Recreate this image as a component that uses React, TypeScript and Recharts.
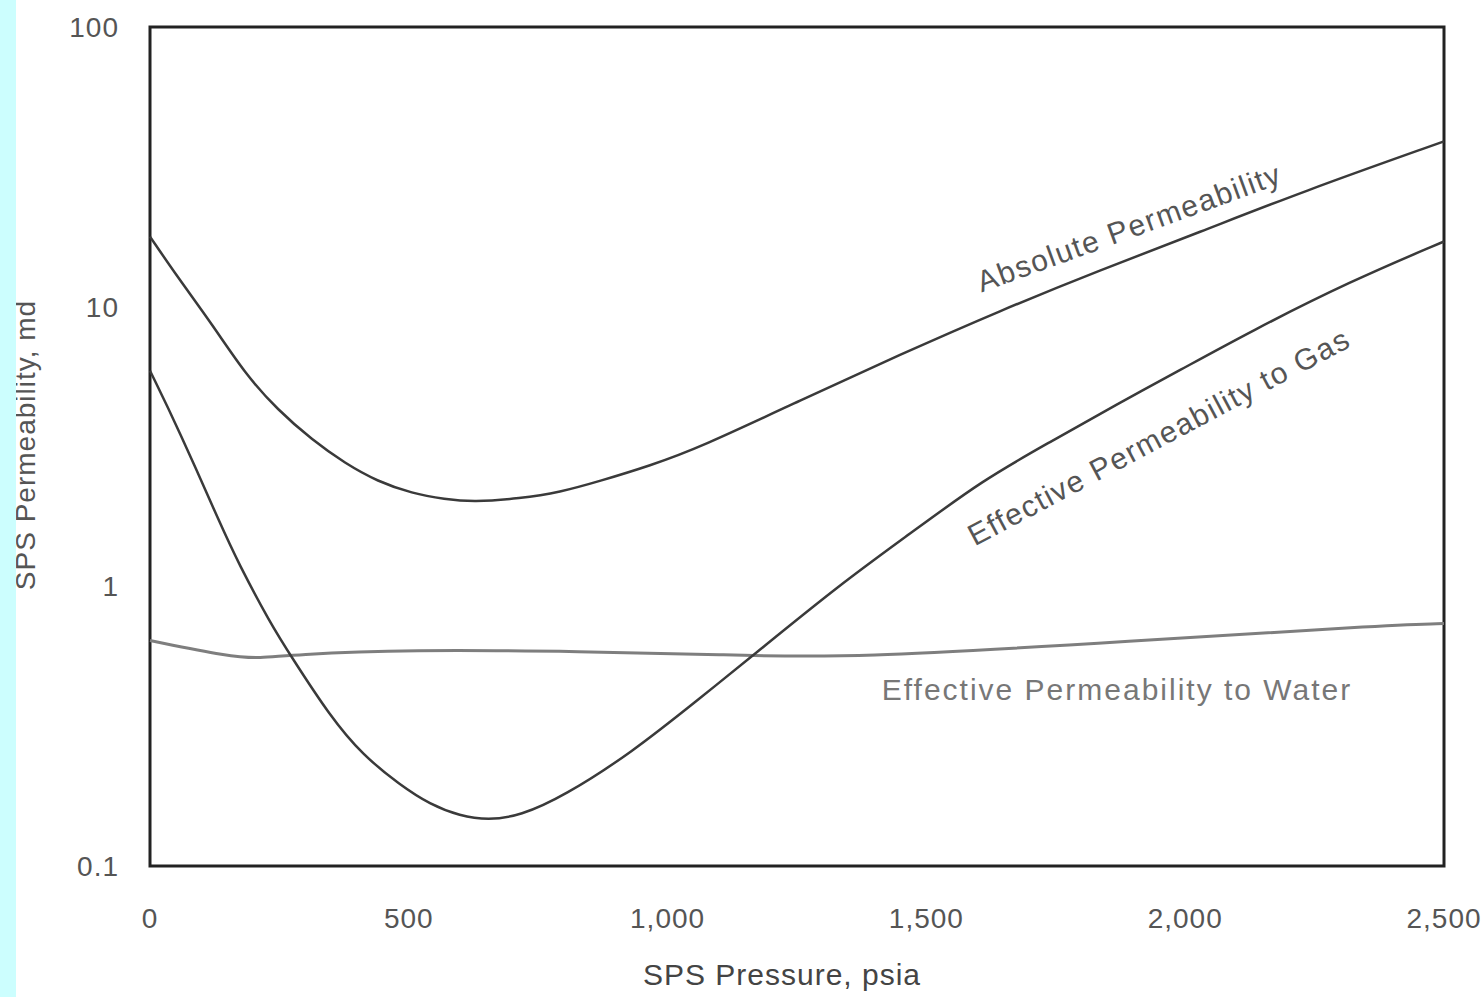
import React from 'react';
import { LineChart, Line, XAxis, YAxis, ReferenceArea } from 'recharts';

// values (pressure in psia, permeability in md)
const absPressure = [0, 54, 120, 184, 247, 313, 377, 440, 506, 570, 624, 715, 792, 869, 966, 1063, 1256, 1449, 1642, 1835, 2029, 2222, 2500];
const absPerm = [17.8, 12.7, 8.65, 5.74, 4.27, 3.34, 2.75, 2.37, 2.15, 2.05, 2.0, 2.06, 2.17, 2.38, 2.7, 3.14, 4.62, 6.74, 9.67, 13.5, 18.5, 25.6, 39.0];

const gasPressure = [0, 54, 139, 170, 232, 274, 348, 411, 483, 541, 599, 653, 715, 800, 929, 1063, 1163, 1333, 1468, 1609, 1739, 1868, 1990, 2125, 2318, 2500];
const gasPerm = [5.9, 3.69, 1.62, 1.22, 0.74, 0.557, 0.343, 0.249, 0.195, 0.166, 0.151, 0.146, 0.151, 0.178, 0.253, 0.399, 0.562, 1.015, 1.54, 2.4, 3.28, 4.48, 5.93, 8.13, 12.3, 17.1];

const waterPressure = [0, 153, 213, 274, 498, 842, 1101, 1352, 1895, 2415, 2500];
const waterPerm = [0.64, 0.561, 0.552, 0.57, 0.594, 0.585, 0.57, 0.552, 0.636, 0.731, 0.736];

const xTicks = [0, 500, 1000, 1500, 2000, 2500];
const yTicks = [0.1, 1, 10, 100];

const toSeries = (xs: number[], ys: number[]) => xs.map((p, i) => ({ p, k: ys[i] }));

const absData = toSeries(absPressure, absPerm);
const gasData = toSeries(gasPressure, gasPerm);
const waterData = toSeries(waterPressure, waterPerm);

const FONT = '"Liberation Sans", Arial, Helvetica, sans-serif';

export default function App() {
  return (
    <div style={{ position: 'absolute', left: 0, top: 0, width: 1483, height: 997, background: '#fff', fontFamily: FONT }}>
      <LineChart width={1483} height={997} margin={{ top: 27, right: 39, bottom: 71, left: 20 }}>
        <XAxis
          dataKey="p"
          type="number"
          domain={[0, 2500]}
          ticks={xTicks}
          tickFormatter={(v: number) => v.toLocaleString('en-US')}
          axisLine={false}
          tickLine={false}
          tickSize={0}
          tickMargin={42}
          height={60}
          tick={{ fill: '#555', fontSize: 28, fontFamily: FONT, letterSpacing: 1 }}
          allowDuplicatedCategory={false}
        />
        <YAxis
          dataKey="k"
          scale="log"
          domain={[0.1, 100]}
          ticks={yTicks}
          allowDataOverflow
          axisLine={false}
          tickLine={false}
          tickSize={0}
          tickMargin={31}
          width={130}
          tick={{ fill: '#555', fontSize: 28, fontFamily: FONT, letterSpacing: 1 }}
        />
        <ReferenceArea x1={0} x2={2500} y1={0.1} y2={100} fill="none" stroke="#222" strokeWidth={3} />
        <Line data={waterData} dataKey="k" type="basis" stroke="#7e7e7e" strokeWidth={3} dot={false} isAnimationActive={false} />
        <Line data={absData} dataKey="k" type="basis" stroke="#3a3a3a" strokeWidth={2.5} dot={false} isAnimationActive={false} />
        <Line data={gasData} dataKey="k" type="basis" stroke="#3a3a3a" strokeWidth={2.5} dot={false} isAnimationActive={false} />

        <text x={1130} y={230} transform="rotate(-20, 1130, 230)" textAnchor="middle" dominantBaseline="middle"
          fill="#555" fontSize={30} fontFamily={FONT} letterSpacing={1.5}>Absolute Permeability</text>
        <text x={1160} y={439} transform="rotate(-28, 1160, 439)" textAnchor="middle" dominantBaseline="middle"
          fill="#555" fontSize={30} fontFamily={FONT} letterSpacing={1.5}>Effective Permeability to Gas</text>
        <text x={1117} y={692} textAnchor="middle" dominantBaseline="middle"
          fill="#777" fontSize={30} fontFamily={FONT} letterSpacing={2}>Effective Permeability to Water</text>
        <text x={782} y={977} textAnchor="middle" dominantBaseline="middle"
          fill="#444" fontSize={30} fontFamily={FONT} letterSpacing={1}>SPS Pressure, psia</text>
        <text x={35} y={445} transform="rotate(-90, 35, 445)" textAnchor="middle"
          fill="#555" fontSize={28} fontFamily={FONT} letterSpacing={1}>SPS Permeability, md</text>
      </LineChart>
      <div style={{ position: 'absolute', left: 0, top: 0, width: 16, height: 997, background: '#ccfefe' }} />
    </div>
  );
}
